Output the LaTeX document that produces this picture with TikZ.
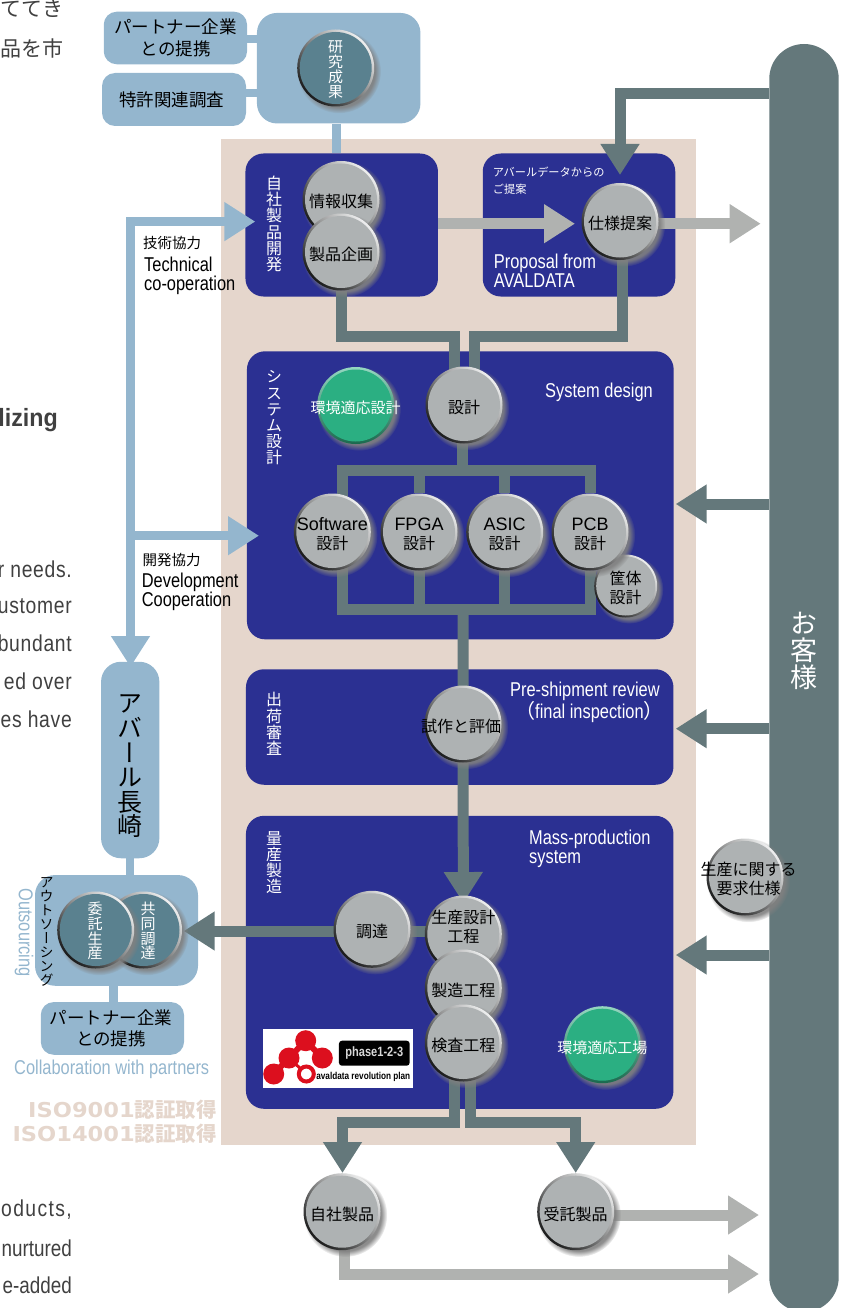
\documentclass[tikz,border=0pt]{standalone}
\usepackage{fontspec}
\usetikzlibrary{arrows.meta}
\usetikzlibrary{shadows}
\setmainfont{Liberation Sans}
\newfontfamily\jp{Noto Sans CJK JP}
\newfontfamily\jpv[Vertical=RotatedGlyphs]{Noto Sans CJK JP}
\newfontfamily\cond[FakeStretch=0.82]{Liberation Sans}
\newfontfamily\headf[FakeStretch=0.93]{Liberation Sans}
\newfontfamily\bodyf[FakeStretch=0.84, LetterSpace=3]{Liberation Sans}
\newfontfamily\bodywf[FakeStretch=0.84, LetterSpace=6]{Liberation Sans}
\newfontfamily\isof[FakeStretch=1.1]{DejaVu Sans}
\newcommand{\wide}[1]{\makebox[0pt]{#1}}
\definecolor{mnavy}{HTML}{2B3092}
\definecolor{mpink}{HTML}{E5D6CC}
\definecolor{mteal}{HTML}{64787B}
\definecolor{mash}{HTML}{B0B2B0}
\definecolor{mblue}{HTML}{94B6CE}
\definecolor{mface}{HTML}{AEB2B3}
\definecolor{mtealf}{HTML}{5A818F}
\definecolor{mgreen}{HTML}{2BAF82}
\definecolor{mred}{HTML}{DC0F1E}
\tikzset{face/.store in = \coinface, facer/.store in = \coinr}
\tikzset{coin/.style = {circle, inner sep = 0, minimum size = 77, align = center,
                        font = \fontsize{16}{19}\jp, text height = 18pt, face = mface, facer = 36,
                        top color = white!80!mface, bottom color = black!85!mface,
                        shading angle = -45,
                        circular drop shadow = {shadow xshift = 3pt, shadow yshift = -3pt,
                                                shadow scale = 1.09, opacity = 0.9},
                        path picture = {\fill [fill = \coinface]
                          (path picture bounding box.center) circle [radius = \coinr pt];}}}
\tikzset{twoline/.style = {text height = 37pt}}
\tikzset{tealcoin/.style = {coin, face = mtealf, text = white}}
\tikzset{greencoin/.style = {coin, face = mgreen, text = white, font = \fontsize{15}{19}\jp,
                             top color = white!50!mgreen, bottom color = black!40!mgreen}}
\tikzset{smallcoin/.style = {coin, twoline, minimum size = 63, facer = 29.5}}
\tikzset{panel/.style = {fill = mnavy, rounded corners = 18pt}}
\tikzset{paleboxed/.style = {fill = mblue, rounded corners = 13pt, font = \fontsize{17.5}{21}\jp, align = center}}
\tikzset{flow/.style = {line width = 11pt, -{Triangle[length = 31pt, width = 37pt]}}}
\tikzset{tline/.style = {line width = 11pt, mteal}}
\tikzset{bline/.style = {line width = 8.5pt, mblue}}
\tikzset{bflow/.style = {bline, -{Triangle[length = 31pt, width = 37pt]}}}
\tikzset{vlabel/.style = {text = white, align = center, inner sep = 0, font = \fontsize{16}{16.2}\jpv}}
\tikzset{condl/.style = {anchor = west, inner sep = 0, font = \fontsize{20}{19}\cond, align = left}}
\tikzset{whitel/.style = {condl, text = white}}
\tikzset{jpl/.style = {anchor = west, inner sep = 0, font = \fontsize{14.5}{17}\jp, align = left}}
\tikzset{bodyl/.style = {anchor = east, inner sep = 0, font = \fontsize{23}{23}\bodyf, text = black!75}}
\tikzset{isol/.style = {anchor = east, inner sep = 0, text = mpink, font = \fontsize{20.5}{24}\bfseries\isof}}
\pgfdeclarelayer{panels}
\pgfdeclarelayer{wires}
\pgfsetlayers{panels, wires, main}
\begin{document}
\begin{tikzpicture}[x = 1pt, y = -1pt]
  \useasboundingbox (0, 0) rectangle (846, 1308);

  \begin{pgfonlayer}{panels}
    \fill [mpink] (221, 139) rectangle (696, 1145);
    \node (selfdev) [panel, minimum width = 192.5, minimum height = 143] at (341.7, 225) {};
    \node (propbox) [panel, minimum width = 192.5, minimum height = 143] at (579, 225) {};
    \node (sysbox) [panel, minimum width = 426.7, minimum height = 288] at (460.3, 495.3) {};
    \node (shipbox) [panel, minimum width = 427.5, minimum height = 115.5] at (459.7, 727) {};
    \node (massbox) [panel, minimum width = 427.5, minimum height = 293] at (459.7, 962.3) {};
    \node (bar) [fill = mteal, rounded corners = 34.7pt, minimum width = 69.4, minimum height = 1268] at (804, 678) {};

    \node (partnertop) [paleboxed, minimum width = 143.3, minimum height = 52.6] at (175.4, 38) {};
    \node (patent) [paleboxed, minimum width = 144, minimum height = 53] at (174, 99.5) {};
    \node (research) [fill = mblue, rounded corners = 20pt, minimum width = 163.5, minimum height = 110.5] at (338.7, 68.2) {};
    \node (abar) [fill = mblue, rounded corners = 20pt, minimum width = 58.3, minimum height = 196.5] at (130.2, 760) {};
    \node (outbox) [fill = mblue, rounded corners = 20pt, minimum width = 163, minimum height = 110.7] at (116.5, 930.4) {};
    \node (partnerbot) [paleboxed, minimum width = 143.3, minimum height = 52.7] at (112.4, 1028.4) {};
  \end{pgfonlayer}

  % coins
  \node (result) [tealcoin] at (335.7, 68) {};
  \node (collect) [coin] at (341, 199.5) {情報収集};
  \node (plan) [coin] at (341, 252) {製品企画};
  \node (spec) [coin] at (620, 221.5) {仕様提案};
  \node (ecodesign) [greencoin] at (355.7, 405.5) {\wide{環境適応設計}};
  \node (design) [coin] at (464, 405) {設計};
  \node (software) [coin, twoline] at (332.3, 532) {{\normalfont\fontsize{18}{19}\selectfont\wide{Software}}\\設計};
  \node (fpga) [coin, twoline] at (419, 532) {{\normalfont\fontsize{18}{19}\selectfont FPGA}\\設計};
  \node (asic) [coin, twoline] at (504.7, 532) {{\normalfont\fontsize{18}{19}\selectfont ASIC}\\設計};
  \node (chassis) [smallcoin] at (625.7, 586) {筐体\\設計};
  \node (pcb) [coin, twoline] at (590, 532) {{\normalfont\fontsize{18}{19}\selectfont PCB}\\設計};
  \node (trial) [coin] at (463, 724) {\wide{\hspace*{-4pt}試作と評価}};
  \node (procure) [coin] at (372, 929.3) {調達};
  \node (prod) [coin, text height = 19pt] at (463.3, 934) {\wide{生産設計}\\工程};
  \node (make) [coin] at (463.3, 988) {製造工程};
  \node (check) [coin] at (463.3, 1043) {検査工程};
  \node (ecofact) [greencoin] at (602.3, 1044.7) {\wide{環境適応工場}};
  \node (joint) [tealcoin] at (143.5, 930) {};
  \node (outsrc) [tealcoin] at (95.7, 930) {};
  \node (own) [coin] at (342, 1211.7) {自社製品};
  \node (contract) [coin] at (575.7, 1211.7) {受託製品};
  \node (request) [coin, twoline] at (745, 877) {\wide{\hspace*{7pt}生産に関する}\\\wide{\hspace*{7pt}要求仕様}};

  % named free ends
  \coordinate (inl) at (454.7, 336);
  \coordinate (inr) at (474.7, 336);
  \coordinate (specout) at (622.5, 250);
  \coordinate (treetop) at (462, 470.3);
  \coordinate (treebot) at (463, 609.7);
  \coordinate (swup) at (342.2, 532);
  \coordinate (prodin) at (463.3, 903);
  \coordinate (procout) at (183.7, 931);
  \coordinate (outl) at (342.5, 1122.5);
  \coordinate (outr) at (575.7, 1122);
  \coordinate (chkl) at (454.7, 1043);
  \coordinate (chkr) at (470.7, 1043);
  \coordinate (specin) at (620, 175);
  \coordinate (reqy) at (620, 93.3);
  \coordinate (planin) at (575, 223.7);
  \coordinate (propout) at (760.7, 223.7);
  \coordinate (sysin) at (675.7, 504);
  \coordinate (shipin) at (675.7, 728.7);
  \coordinate (massin) at (675.7, 955);
  \coordinate (ownout) at (344.5, 1211);
  \coordinate (ownend) at (759, 1274);
  \coordinate (contend) at (759, 1215);
  \coordinate (corner) at (130.5, 221.6);
  \coordinate (techin) at (255.3, 221.6);
  \coordinate (devin) at (259, 535.7);
  \coordinate (abarin) at (130.5, 667);

  \begin{pgfonlayer}{wires}
    \draw [bline] (partnertop.east |- 0, 39) -- (research.west |- 0, 39);
    \draw [bline] (patent.east |- 0, 93) -- (research.west |- 0, 93);
    \draw [bline] (research.south -| 336.7, 0) -- (selfdev.north -| 336.7, 0);
    \draw [bline] (abar.south) -- (abar.south |- outbox.north);
    \draw [bline] (113.7, 985) -- (partnerbot.north -| 113.7, 0);
    \draw [bline, {Triangle[length = 31pt, width = 37pt]}-{Triangle[length = 31pt, width = 37pt]}]
      (techin) -- (corner) -- (abarin);
    \draw [bflow] (corner |- devin) -- (devin);

    \draw [tline] (plan) |- (inl) -- (inl |- design);
    \draw [tline] (specout) |- (inr) -- (inr |- design);
    \draw [tline] (design -| treetop) -- (treetop);
    \draw [tline] (swup) |- (treetop) -| (pcb);
    \draw [tline] (fpga |- treetop) -- (fpga);
    \draw [tline] (asic |- treetop) -- (asic);
    \draw [tline] (swup) |- (treebot) -| (pcb);
    \draw [tline] (fpga) -- (fpga |- treebot);
    \draw [tline] (asic) -- (asic |- treebot);
    \draw [flow, mteal] (treebot) -- (prodin);
    \draw [flow, mteal] (prod |- procout) -- (procout);
    \draw [flow, mteal] (chkl) |- (outl) -- (outl |- own.north);
    \draw [flow, mteal] (chkr) |- (outr) -- (contract.north);
    \draw [flow, mteal] (bar.west |- reqy) -| (specin);
    \draw [flow, mteal] (bar.west |- sysin) -- (sysin);
    \draw [flow, mteal] (bar.west |- shipin) -- (shipin);
    \draw [flow, mteal] (bar.west |- massin) -- (massin);

    \draw [flow, mash] (selfdev.east |- planin) -- (planin);
    \draw [flow, mash] (spec.center |- propout) -- (propout);
    \draw [flow, mash] (contract.center |- contend) -- (contend);
    \draw [flow, mash] (ownout) |- (ownend);
  \end{pgfonlayer}

  % labels inside the pale boxes and teal coins
  \node (partnertoptxt) [font = \fontsize{17.5}{21.5}\jp, align = center, inner sep = 0] at (175.7, 38) {パートナー企業\\との提携};
  \node (patenttxt) [font = \fontsize{17.5}{21}\jp, inner sep = 0] at (171.7, 100) {特許関連調査};
  \node (partnerbottxt) [font = \fontsize{17.5}{21.5}\jp, align = center, inner sep = 0] at (111, 1028.5) {パートナー企業\\との提携};
  \node (resulttxt) [vlabel, font = \fontsize{15}{15}\jpv] at (335.7, 70) {研\\究\\成\\果};
  \node (outsrctxt) [vlabel, font = \fontsize{15}{14.7}\jpv] at (95, 931) {委\\託\\生\\産};
  \node (jointtxt) [vlabel, font = \fontsize{15}{14.7}\jpv] at (148, 931) {共\\同\\調\\達};
  \node (abartxt) [vlabel, text = black, font = \fontsize{25}{24.6}\jpv] at (130, 766.5) {ア\\バ\\ー\\ル\\長\\崎};
  \node (custtxt) [vlabel, font = \fontsize{27}{27.4}\jpv] at (804, 651) {お\\客\\様};
  \node (outjp) [vlabel, text = black, font = \fontsize{14}{14}\jpv] at (46.7, 932) {ア\\ウ\\ト\\ソ\\ー\\シ\\ン\\グ};
  \node (outen) [condl, anchor = center, text = mblue, rotate = -90] at (24, 932.5) {Outsourcing};
  \node (collab) [condl, anchor = center, text = mblue] at (111.7, 1069) {Collaboration with partners};

  % panel titles
  \node (selfdevt) [vlabel] at (274, 224) {自\\社\\製\\品\\開\\発};
  \node (syst) [vlabel] at (274, 418) {シ\\ス\\テ\\ム\\設\\計};
  \node (shipt) [vlabel] at (274, 724) {出\\荷\\審\\査};
  \node (masst) [vlabel] at (274, 862.5) {量\\産\\製\\造};
  \node (sysen) [whitel] at (545, 392) {System design};
  \node (shipen) [whitel] at (510, 691) {Pre-shipment review};
  \node (inspen) [whitel] at (515, 712) {{\jp（}final inspection{\jp）}};
  \node (massen) [whitel] at (529, 848.5) {Mass-production\\system};
  \node (propjp) [jpl, text = white, font = \fontsize{11.2}{16.5}\jp] at (492.7, 180.5) {アバールデータからの\\ご提案};
  \node (propen) [whitel] at (493.7, 271) {Proposal from\\AVALDATA};

  % cooperation labels
  \node (techjp) [jpl] at (143, 243.5) {技術協力};
  \node (techen) [condl] at (144, 275.5) {Technical\\co-operation};
  \node (devjp) [jpl] at (142.3, 560.5) {開発協力};
  \node (deven) [condl] at (141.7, 591.5) {Development\\Cooperation};

  % certification marks
  \node (iso1) [isol] at (217, 1110) {ISO9001{\jp\bfseries 認証取得}};
  \node (iso2) [isol] at (217, 1134) {ISO14001{\jp\bfseries 認証取得}};

  % cut off body text
  \node (cut1) [bodyl, font = \fontsize{21}{21}\jp] at (63.5, 9) {ててき};
  \node (cut2) [bodyl, font = \fontsize{21}{21}\jp] at (63.5, 49) {品を市};
  \node (cut3) [bodyl, font = \fontsize{25}{25}\bfseries\headf] at (58, 420) {lizing};
  \node (cut4) [bodyl] at (72, 569) {r needs.};
  \node (cut5) [bodyl] at (72, 606.5) {ustomer};
  \node (cut6) [bodyl] at (72, 643.5) {bundant};
  \node (cut7) [bodyl] at (72, 681.5) {ed over};
  \node (cut8) [bodyl] at (72, 719.5) {es have};
  \node (cut9) [bodyl, font = \fontsize{23}{23}\bodywf] at (72, 1210) {oducts,};
  \node (cut10) [bodyl, font = \fontsize{23}{23}\cond] at (72, 1248) {nurtured};
  \node (cut11) [bodyl, font = \fontsize{23}{23}\cond] at (72, 1285) {e-added};

  % logo
  \fill [white] (263, 1029) rectangle (413, 1087.7);
  \foreach \x/\y in {305.7/1040.7, 289/1058, 322.3/1058, 273.7/1074} {
    \fill [mred] (\x, \y) circle [radius = 10.5pt];
  }
  \draw [mred, line width = 6pt] (273.7, 1074) -- (289, 1058) -- (305.7, 1040.7) -- (322.3, 1058);
  \draw [mred, line width = 3pt] (289, 1058) -- (306.3, 1074);
  \draw [mred, line width = 4pt, fill = white] (306.3, 1074) circle [radius = 7.5pt];
  \node (phase) [fill = black, rounded corners = 3pt, text = white!85!black, inner sep = 0, minimum width = 70.7, minimum height = 25, font = \fontsize{13.5}{13.5}\bfseries\cond] at (374.3, 1053.2) {phase1-2-3};
  \node (plantxt) [inner sep = 0, font = \fontsize{10}{10}\bfseries\cond] at (363.3, 1077) {avaldata revolution plan};
\end{tikzpicture}
\end{document}
